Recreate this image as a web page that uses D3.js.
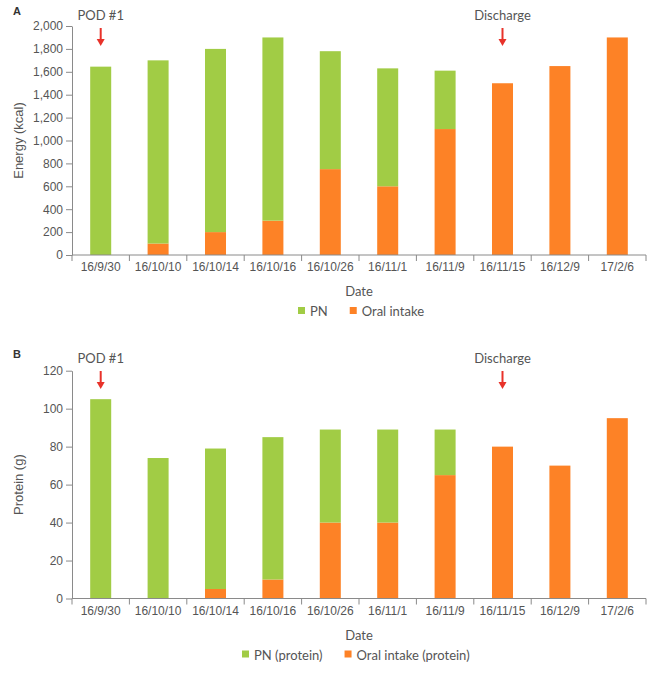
<!DOCTYPE html>
<html>
<head>
<meta charset="utf-8">
<script src="https://cdn.jsdelivr.net/npm/d3@7"></script>
<style>
  body { margin: 0; background: #fff; }
  svg { display: block; }
</style>
</head>
<body>
<svg id="chart" width="666" height="678"></svg>
<script>
const dates = ["16/9/30", "16/10/10", "16/10/14", "16/10/16", "16/10/26", "16/11/1", "16/11/9", "16/11/15", "16/12/9", "17/2/6"];

const energyPN = [1645, 1600, 1600, 1600, 1030, 1030, 510, 0, 0, 0];
const energyOral = [0, 100, 200, 300, 750, 600, 1100, 1500, 1650, 1900];
const energyTicks = [0, 200, 400, 600, 800, 1000, 1200, 1400, 1600, 1800, 2000];

const proteinPN = [105, 74, 74, 75, 49, 49, 24, 0, 0, 0];
const proteinOral = [0, 0, 5, 10, 40, 40, 65, 80, 70, 95];
const proteinTicks = [0, 20, 40, 60, 80, 100, 120];

const annotations = [{ label: "POD #1", date: "16/9/30" }, { label: "Discharge", date: "16/11/15" }];

const GREEN = "#a1cc45";
const ORANGE = "#fd8226";
const AXIS = "#8a8a8a";
const TEXT = "#555";
const SANS = "'Liberation Sans', Arial, sans-serif";
const LABEL_FONT = "Lato, 'Open Sans', sans-serif";

const svg = d3.select("#chart");

function drawPanel(cfg) {
  const g = svg.append("g");
  const x = d3.scaleBand().domain(dates).range([72, 646]).paddingInner(0).paddingOuter(0);
  const y = d3.scaleLinear().domain([0, cfg.max]).range([cfg.y0, cfg.yTop]);
  const bw = x.bandwidth() * 0.366;

  const rows = dates.map((d, i) => ({ date: d, pn: cfg.pn[i], oral: cfg.oral[i] }));
  const stack = d3.stack().keys(["oral", "pn"])(rows);
  const colors = { oral: ORANGE, pn: GREEN };

  stack.forEach(layer => {
    g.append("g").selectAll("rect").data(layer.filter(d => d[1] > d[0])).join("rect")
      .attr("x", d => x(d.data.date) + x.bandwidth() / 2 - bw / 2)
      .attr("width", bw)
      .attr("y", d => y(d[1]))
      .attr("height", d => y(d[0]) - y(d[1]))
      .attr("fill", colors[layer.key]);
  });

  // y axis
  const ya = g.append("g").attr("transform", "translate(72,0)")
    .call(d3.axisLeft(y).tickValues(cfg.ticks).tickSize(6).tickSizeOuter(0).tickPadding(3)
      .tickFormat(d3.format(",")));
  ya.select(".domain").attr("stroke", AXIS);
  ya.selectAll(".tick line").attr("stroke", AXIS);
  ya.selectAll(".tick text").attr("fill", TEXT).style("font-family", SANS).style("font-size", "12px");

  // x axis with ticks at band boundaries
  const xa = g.append("g").attr("transform", `translate(0,${cfg.y0})`);
  xa.append("line").attr("x1", 72).attr("x2", 646).attr("stroke", AXIS);
  const bounds = dates.map(d => x(d)).concat([x(dates[dates.length - 1]) + x.bandwidth()]);
  xa.selectAll("line.tk").data(bounds).join("line").attr("class", "tk")
    .attr("x1", d => d).attr("x2", d => d).attr("y1", 0).attr("y2", 6).attr("stroke", AXIS);
  xa.selectAll("text").data(dates).join("text")
    .attr("x", d => x(d) + x.bandwidth() / 2).attr("y", 16)
    .attr("text-anchor", "middle").attr("fill", TEXT)
    .style("font-family", SANS).style("font-size", "12px").text(d => d);

  // axis titles
  g.append("text").attr("transform", `translate(23,${(cfg.y0 + cfg.yTop) / 2}) rotate(-90)`)
    .attr("text-anchor", "middle").attr("fill", TEXT)
    .style("font-family", SANS).style("font-size", "13px").text(cfg.yTitle);
  g.append("text").attr("x", 359).attr("y", cfg.y0 + 41).attr("text-anchor", "middle").attr("fill", TEXT)
    .style("font-family", LABEL_FONT).style("font-size", "13px").text("Date");

  // panel letter
  g.append("text").attr("x", 13).attr("y", cfg.letterY).attr("fill", "#333")
    .style("font-family", SANS).style("font-weight", "bold").style("font-size", "11px").text(cfg.letter);

  // annotations
  annotations.forEach(a => {
    const cx = x(a.date) + x.bandwidth() / 2;
    g.append("text").attr("x", cx).attr("y", cfg.annY).attr("text-anchor", "middle").attr("fill", TEXT)
      .style("font-family", LABEL_FONT).style("font-size", "13px").text(a.label);
    g.append("line").attr("x1", cx).attr("x2", cx).attr("y1", cfg.annY + 8).attr("y2", cfg.annY + 21)
      .attr("stroke", "#e8322a").attr("stroke-width", 2);
    g.append("path")
      .attr("d", `M${cx - 4},${cfg.annY + 19} L${cx + 4},${cfg.annY + 19} L${cx},${cfg.annY + 26} Z`)
      .attr("fill", "#e8322a");
  });

  // legend
  let lx = cfg.legendX;
  const ly = cfg.y0 + 61;
  cfg.legend.forEach((item, i) => {
    g.append("rect").attr("x", lx).attr("y", ly - 9).attr("width", 7).attr("height", 7).attr("fill", item.color);
    const t = g.append("text").attr("x", lx + 12).attr("y", ly).attr("fill", TEXT)
      .style("font-family", LABEL_FONT).style("font-size", "13px").text(item.label);
    lx += 12 + t.node().getComputedTextLength() + 22;
  });
}

drawPanel({
  pn: energyPN, oral: energyOral, max: 2000, ticks: energyTicks,
  y0: 255, yTop: 26, yTitle: "Energy (kcal)", letter: "A", letterY: 15, annY: 20,
  legendX: 298, legend: [{ label: "PN", color: GREEN }, { label: "Oral intake", color: ORANGE }]
});

drawPanel({
  pn: proteinPN, oral: proteinOral, max: 120, ticks: proteinTicks,
  y0: 598.5, yTop: 370.7, yTitle: "Protein (g)", letter: "B", letterY: 358, annY: 363,
  legendX: 242, legend: [{ label: "PN (protein)", color: GREEN }, { label: "Oral intake (protein)", color: ORANGE }]
});
</script>
</body>
</html>
